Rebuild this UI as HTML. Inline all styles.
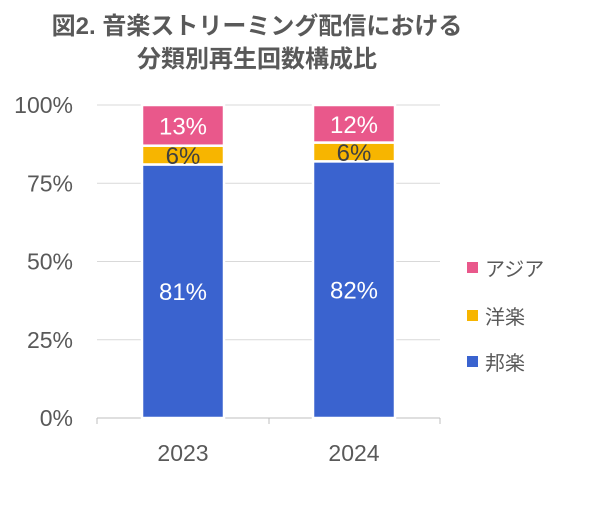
<!DOCTYPE html>
<html><head><meta charset="utf-8"><style>
body{margin:0;background:#fff;width:600px;height:510px;overflow:hidden;font-family:"Liberation Sans","Noto Sans CJK JP",sans-serif}
</style></head><body>
<svg width="600" height="510" id="c" font-family="Liberation Sans, Noto Sans CJK JP, sans-serif">
<text x="257" y="34" text-anchor="middle" font-size="24" font-weight="bold" fill="#595959">図2. 音楽ストリーミング配信における</text>
<text x="257" y="67" text-anchor="middle" font-size="24" font-weight="bold" fill="#595959">分類別再生回数構成比</text>
</svg>
<script>
const years=['2023','2024'];
const hogaku=[81,82];
const yogaku=[6,6];
const asia=[13,12];
const ticks=[0,25,50,75,100];
const svg=document.getElementById('c');
const NS='http://www.w3.org/2000/svg';
const y0=418,y1=105;
const Y=v=>y0-(y0-y1)*v/100;
const X=i=>183+i*171;
function mk(t,a){const e=document.createElementNS(NS,t);for(const k in a)e.setAttribute(k,a[k]);svg.appendChild(e);return e;}
ticks.forEach(t=>{
 if(t>0){const g=mk('line',{x1:97,x2:440,y1:Y(t),y2:Y(t),stroke:'#d9d9d9','stroke-width':1});
 
 }
 const l=mk('text',{x:73,y:Y(t)+8,'text-anchor':'end','font-size':23,fill:'#595959'});l.textContent=t+'%';
 
 
});
const ax=mk('line',{x1:97,x2:440,y1:y0,y2:y0,stroke:'#bfbfbf','stroke-width':1});


[97,269,440].forEach((x,i)=>{const t=mk('line',{x1:x,x2:x,y1:y0,y2:y0+6,stroke:'#bfbfbf'});

});
const series=[{d:hogaku,c:'#3a63cf',n:'hogaku',tc:'#fff'},{d:yogaku,c:'#f7b500',n:'yogaku',tc:'#404040'},{d:asia,c:'#e9588b',n:'asia',tc:'#fff'}];
years.forEach((yr,i)=>{
 let cum=0;
 series.forEach(s=>{
  const v=s.d[i];const top=Y(cum+v),bot=Y(cum);
  const r=mk('rect',{x:X(i)-41,y:top,width:82,height:bot-top,fill:s.c,stroke:'#fff','stroke-width':2.5});
  
  
  const t=mk('text',{x:X(i),y:(top+bot)/2+9,'text-anchor':'middle','font-size':24,fill:s.tc});t.textContent=v+'%';
  
  
  cum+=v;
 });
 const l=mk('text',{x:X(i),y:461,'text-anchor':'middle','font-size':23,fill:'#595959'});l.textContent=yr;
 
 
});
[['アジア','#e9588b',268],['洋楽','#f7b500',316],['邦楽','#3a63cf',362]].forEach(([n,c,y])=>{
 const r=mk('rect',{x:467,y:y-6,width:11,height:11,fill:c});
 
 
 const t=mk('text',{x:485,y:y+8,'font-size':20,fill:'#595959'});t.textContent=n;
 
 
});
</script>
</body></html>
